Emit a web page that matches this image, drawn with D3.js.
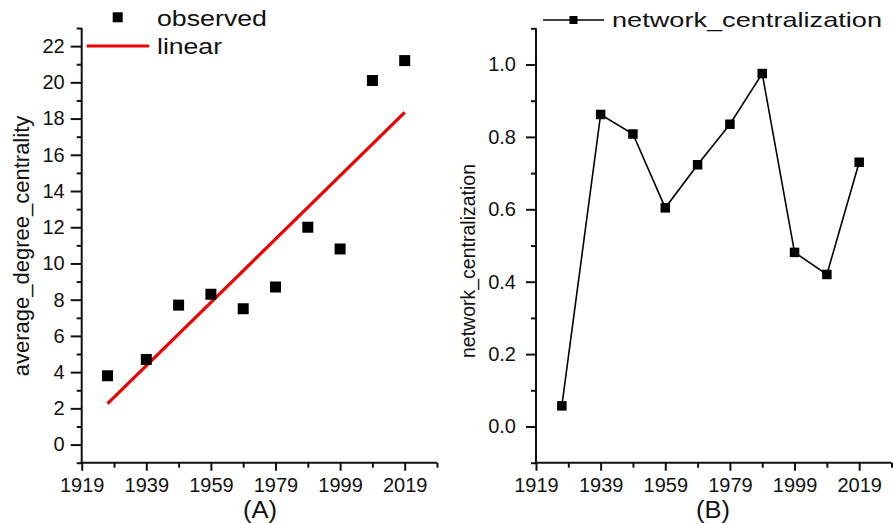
<!DOCTYPE html>
<html><head><meta charset="utf-8">
<script src="https://cdn.jsdelivr.net/npm/d3@7"></script>
<style>
html,body{margin:0;padding:0;background:#fff;}
svg{display:block;font-family:"Liberation Sans",Arial,sans-serif;}
</style></head>
<body><svg id="c" width="893" height="524"></svg>
<script>
// ---- data ----
const years = [1927, 1939, 1949, 1959, 1969, 1979, 1989, 1999, 2009, 2019];
const avgDegree = [3.8, 4.7, 7.7, 8.3, 7.5, 8.7, 12.0, 10.8, 20.1, 21.2];
const linearYears = [1927, 2019];
const linearValues = [2.26, 18.34];
const netCentral = [0.057, 0.862, 0.808, 0.604, 0.723, 0.835, 0.975, 0.481, 0.42, 0.73];
const xTicks = [1919, 1939, 1959, 1979, 1999, 2019];
const yTicksA = [0, 2, 4, 6, 8, 10, 12, 14, 16, 18, 20, 22];
const yTicksB = [0.0, 0.2, 0.4, 0.6, 0.8, 1.0];

const svg = d3.select("#c");

function drawAxes(g, x, y, xT, xMinor, yT, yMinor, yFmt, ySize, yPad) {
  const xa = g.append("g").attr("transform", `translate(0,${y.range()[0]})`)
    .call(d3.axisBottom(x).tickValues(xT).tickFormat(d3.format("d")).tickSize(8).tickSizeOuter(0).tickPadding(7));
  const xm = g.append("g").attr("transform", `translate(0,${y.range()[0]})`)
    .call(d3.axisBottom(x).tickValues(xMinor).tickFormat("").tickSize(5).tickSizeOuter(0));
  const ya = g.append("g").attr("transform", `translate(${x.range()[0]},0)`)
    .call(d3.axisLeft(y).tickValues(yT).tickFormat(yFmt).tickSize(ySize).tickSizeOuter(0).tickPadding(yPad));
  const ym = g.append("g").attr("transform", `translate(${x.range()[0]},0)`)
    .call(d3.axisLeft(y).tickValues(yMinor).tickFormat("").tickSize(5).tickSizeOuter(0));
  [xa, xm, ya, ym].forEach(a => {
    a.selectAll("path,line").attr("stroke", "#111").attr("stroke-width", 2);
    a.selectAll("text").attr("fill", "#111").attr("font-size", 20);
  });
  ym.select("path").attr("stroke", "none"); xm.select("path").attr("stroke", "none");
  ya.select("path").attr("d", `M0,${y.range()[0]+1}V${y.range()[1]}`);
  xa.select("path").attr("d", `M-1,0H${x.range()[1]-x.range()[0]}`)
    .attr("transform", `translate(${x.range()[0]},0)`);
}

// ---- Panel A ----
const xA = d3.scaleLinear().domain([1919, 2029]).range([81.7, 437]);
const yA = d3.scaleLinear().domain([-1, 23]).range([462.7, 28]);
const gA = svg.append("g");
const xMinor = [1929, 1949, 1969, 1989, 2009, 2029];
const yMinorA = [-1, 1, 3, 5, 7, 9, 11, 13, 15, 17, 19, 21, 23];
drawAxes(gA, xA, yA, xTicks, xMinor, yTicksA, yMinorA, d3.format("d"), 11, 6);

gA.append("path")
  .datum(linearYears.map((d, i) => [d, linearValues[i]]))
  .attr("fill", "none").attr("stroke", "#f00000").attr("stroke-width", 3.2)
  .attr("d", d3.line().x(d => xA(d[0])).y(d => yA(d[1])));

const sA = 11;
gA.selectAll("rect.pt").data(years).join("rect").attr("class", "pt")
  .attr("x", (d) => xA(d) - sA / 2)
  .attr("y", (d, i) => yA(avgDegree[i]) - sA / 2)
  .attr("width", sA).attr("height", sA).attr("fill", "#000");

// legend A
gA.append("rect").attr("x", 117.7 - 5).attr("y", 17.3 - 5).attr("width", 10).attr("height", 10).attr("fill", "#000");
gA.append("text").attr("x", 157).attr("y", 25.5).attr("font-size", 22).attr("textLength", 110)
  .attr("lengthAdjust", "spacingAndGlyphs").attr("fill", "#111").text("observed");
gA.append("line").attr("x1", 86.7).attr("x2", 149).attr("y1", 46).attr("y2", 46)
  .attr("stroke", "#f00000").attr("stroke-width", 3.2);
gA.append("text").attr("x", 157).attr("y", 53.5).attr("font-size", 22).attr("textLength", 65)
  .attr("lengthAdjust", "spacingAndGlyphs").attr("fill", "#111").text("linear");

gA.append("text").attr("transform", "translate(29,246) rotate(-90)")
  .attr("text-anchor", "middle").attr("font-size", 22).attr("fill", "#111")
  .text("average_degree_centrality");
gA.append("text").attr("x", 243).attr("y", 518).attr("font-size", 23)
  .attr("textLength", 34).attr("lengthAdjust", "spacingAndGlyphs")
  .attr("fill", "#111").text("(A)");

// ---- Panel B ----
const xB = d3.scaleLinear().domain([1919, 2029]).range([536, 891.5]);
const yB = d3.scaleLinear().domain([-0.1, 1.1]).range([462.7, 28.3]);
const gB = svg.append("g");
const yMinorB = [-0.1, 0.1, 0.3, 0.5, 0.7, 0.9, 1.1];
drawAxes(gB, xB, yB, xTicks, xMinor, yTicksB, yMinorB, d3.format(".1f"), 10, 10);

gB.append("path")
  .datum(years.map((d, i) => [d, netCentral[i]]))
  .attr("fill", "none").attr("stroke", "#000").attr("stroke-width", 1.6)
  .attr("d", d3.line().x(d => xB(d[0])).y(d => yB(d[1])));

const sB = 9.5;
gB.selectAll("rect.pt").data(years).join("rect").attr("class", "pt")
  .attr("x", (d) => xB(d) - sB / 2)
  .attr("y", (d, i) => yB(netCentral[i]) - sB / 2)
  .attr("width", sB).attr("height", sB).attr("fill", "#000");

// legend B
gB.append("line").attr("x1", 543).attr("x2", 604).attr("y1", 20).attr("y2", 20)
  .attr("stroke", "#000").attr("stroke-width", 1.6);
gB.append("rect").attr("x", 573.5 - 4).attr("y", 20 - 4).attr("width", 8).attr("height", 8).attr("fill", "#000");
gB.append("text").attr("x", 612).attr("y", 27).attr("font-size", 21).attr("textLength", 270)
  .attr("lengthAdjust", "spacingAndGlyphs").attr("fill", "#111").text("network_centralization");

gB.append("text").attr("transform", "translate(475,261) rotate(-90)")
  .attr("text-anchor", "middle").attr("font-size", 19.5).attr("fill", "#111")
  .text("network_centralization");
gB.append("text").attr("x", 696).attr("y", 518).attr("font-size", 23)
  .attr("textLength", 34).attr("lengthAdjust", "spacingAndGlyphs")
  .attr("fill", "#111").text("(B)");
</script></body></html>
